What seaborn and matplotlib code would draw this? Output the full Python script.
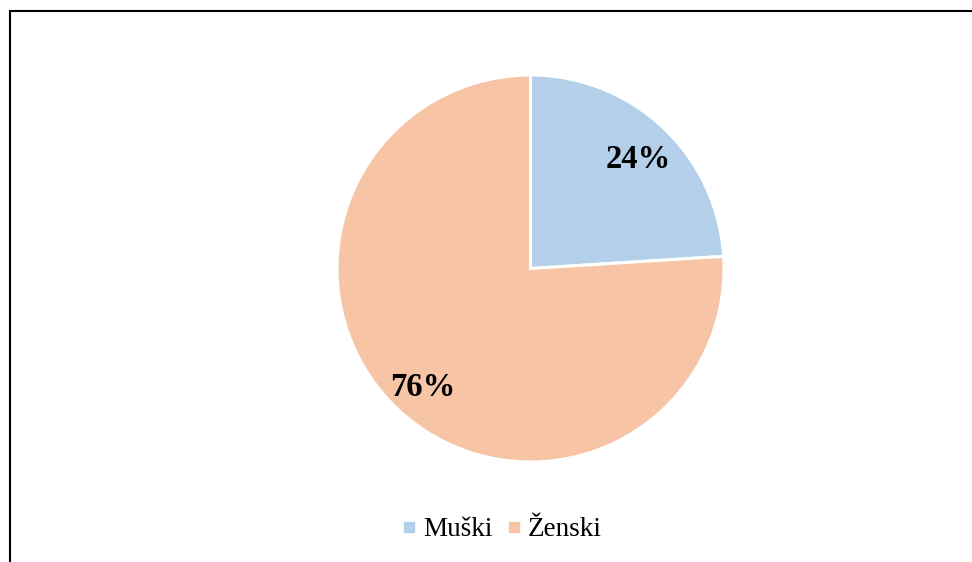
import matplotlib
matplotlib.use("Agg")
import matplotlib.pyplot as plt
import seaborn as sns
from matplotlib.lines import Line2D
from matplotlib.patches import Rectangle

# data
categories = ["Muški", "Ženski"]
shares = [24, 76]
colors = ["#B3CFE9", "#F7C5A5"]

sns.set_style("white")
plt.rcParams["font.family"] = ["Liberation Serif", "DejaVu Serif"]
plt.rcParams["text.color"] = "black"
palette = sns.color_palette(colors)

fig = plt.figure(figsize=(9.72, 5.62), dpi=100)
ax = fig.add_axes([337 / 972, 100 / 562, 387 / 972, 387 / 562])

wedges, texts, autotexts = ax.pie(
    shares,
    colors=palette,
    startangle=90,
    counterclock=False,
    autopct="%d%%",
    pctdistance=0.81,
    wedgeprops=dict(edgecolor="white", linewidth=2.2),
    textprops=dict(fontsize=23.5, fontweight="bold", color="black"),
)
# nudge labels a bit lower, as in the original
for t in autotexts:
    x, y = t.get_position()
    t.set_position((x, y - 0.025))
ax.set_xlim(-1, 1)
ax.set_ylim(-1, 1)
ax.set_aspect("equal")
ax.axis("off")

# outer frame (cropped at right and bottom)
fig.patches.append(Rectangle((9.5 / 972, -0.05), 1.2, 1.05 - 10.5 / 562,
                             transform=fig.transFigure, fill=False,
                             edgecolor="black", linewidth=1.5, clip_on=False))

handles = [Line2D([0], [0], marker="s", linestyle="", markersize=7,
                  markerfacecolor=c, markeredgecolor=c) for c in palette]
leg = fig.legend(handles, categories, loc="center", bbox_to_anchor=(502 / 972, 1 - 530 / 562),
                 ncol=2, frameon=False, fontsize=19.5, handlelength=0.5,
                 handletextpad=0.25, columnspacing=0.55)
for t in leg.get_texts():
    t.set_color("black")

fig.savefig("out.png", dpi=100, facecolor="white")
